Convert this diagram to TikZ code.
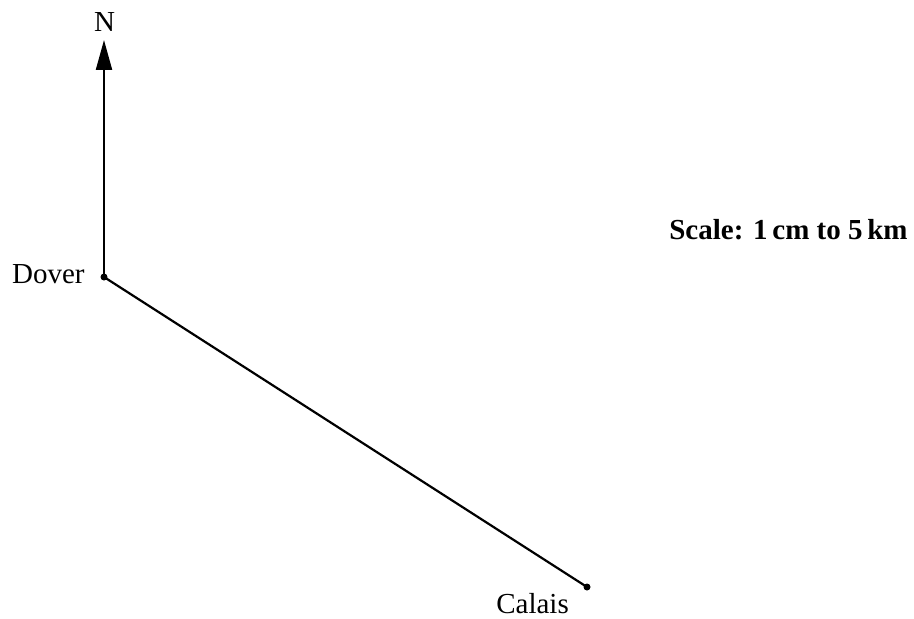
\documentclass[tikz,border=0pt]{standalone}
\usepackage{fontspec}
\setmainfont{Liberation Serif}
\usepackage{tikz}
\usetikzlibrary{arrows.meta,positioning}

\begin{document}
\begin{tikzpicture}[x=0.02cm,y=-0.02cm,
  lbl/.style={font=\fontsize{16.5}{20}\selectfont,inner sep=0pt}]
\useasboundingbox (0,0) rectangle (914,619);
\coordinate (dover) at (104,277);
\coordinate (calais) at (587,587);
\coordinate (ntip) at (104,40);
\draw[-{Triangle[length=0.6cm,width=0.32cm]},line width=1.25pt] (dover) -- (ntip);
\draw[line width=1.25pt] (dover) -- (calais);
\fill (dover) circle (3.5);
\fill (calais) circle (3.5);
\node[lbl,anchor=base] (north) at (104.5,31) {N};
\node[lbl,anchor=base east] (doverlab) at (85,283) {Dover};
\node[lbl,anchor=base west] (calaislab) at (496,613) {Calais};
\node[lbl,anchor=base east] (scale) at (908,239) {\bfseries Scale: 1\,cm to 5\,km};
\end{tikzpicture}
\end{document}
